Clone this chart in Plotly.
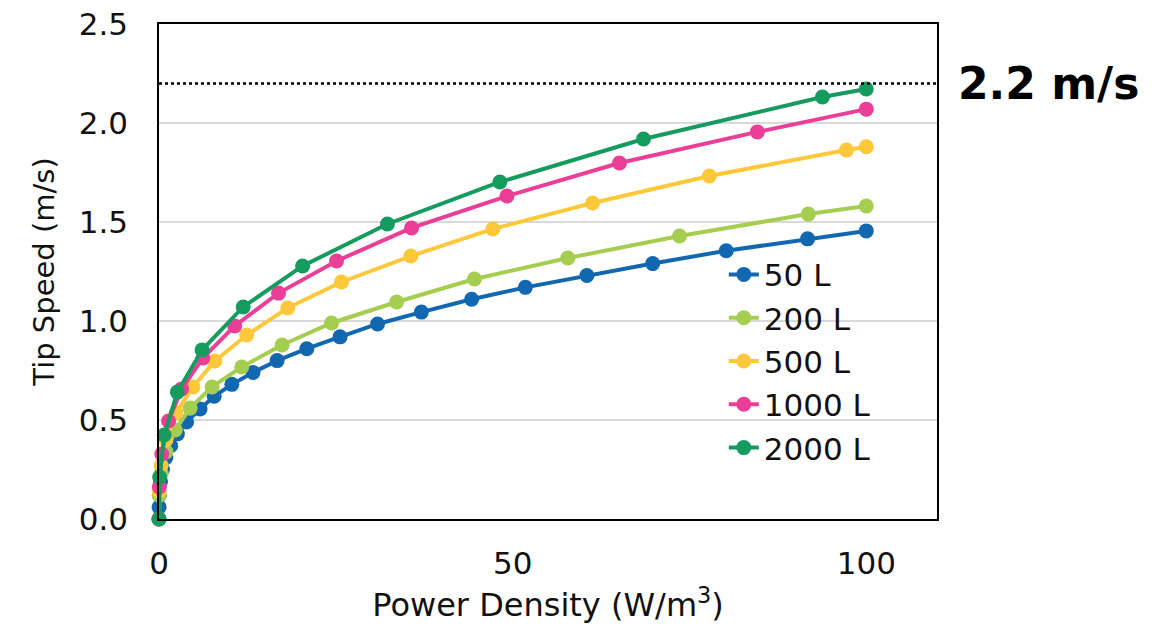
import plotly.graph_objects as go

# ---- data ----
names = ["50 L", "200 L", "500 L", "1000 L", "2000 L"]
colors = ["#1268B0", "#A5CD4F", "#FFC83A", "#EB3F97", "#169B5F"]

x_50 = [0, 0.01, 0.06, 0.22, 0.5, 0.97, 1.65, 2.6, 3.9, 5.8, 7.8, 10.3, 13.3, 16.7,
        20.9, 25.6, 30.9, 37.1, 44.2, 51.8, 60.5, 69.8, 80.2, 91.7, 100]
y_50 = [0, 0.06, 0.12, 0.19, 0.25, 0.31, 0.37, 0.43, 0.49, 0.556, 0.62, 0.68, 0.74, 0.80,
        0.86, 0.92, 0.985, 1.045, 1.11, 1.17, 1.23, 1.29, 1.355, 1.415, 1.455]

x_200 = [0, 0.04, 0.31, 0.99, 2.3, 4.4, 7.5, 11.7, 17.4, 24.4, 33.6, 44.6, 57.8, 73.6, 91.8, 100]
y_200 = [0, 0.12, 0.23, 0.34, 0.45, 0.56, 0.667, 0.768, 0.879, 0.99, 1.096, 1.212, 1.318,
         1.429, 1.54, 1.581]

x_500 = [0, 0.04, 0.3, 0.98, 2.4, 4.8, 7.9, 12.4, 18.2, 25.8, 35.6, 47.2, 61.3, 77.8, 97.2, 100]
y_500 = [0, 0.14, 0.27, 0.40, 0.535, 0.667, 0.798, 0.929, 1.066, 1.197, 1.328, 1.465, 1.596,
         1.732, 1.864, 1.88]

x_1000 = [0, 0.05, 0.39, 1.35, 3.2, 6.2, 10.7, 16.9, 25.1, 35.7, 49.2, 65.1, 84.6, 100]
y_1000 = [0, 0.162, 0.328, 0.495, 0.657, 0.813, 0.975, 1.141, 1.303, 1.47, 1.631, 1.798,
          1.955, 2.07]

x_2000 = [0, 0.09, 0.74, 2.6, 6.1, 11.9, 20.3, 32.3, 48.2, 68.5, 93.8, 100]
y_2000 = [0, 0.212, 0.424, 0.641, 0.854, 1.071, 1.278, 1.49, 1.702, 1.919, 2.131, 2.172]

xs = [x_50, x_200, x_500, x_1000, x_2000]
ys = [y_50, y_200, y_500, y_1000, y_2000]

limit_value = 2.2
limit_label = "2.2 m/s"

x_ticks = [0, 50, 100]
y_ticks = [0.0, 0.5, 1.0, 1.5, 2.0, 2.5]

FONT = "DejaVu Sans, Verdana, sans-serif"
FS = 31

fig = go.Figure()
for n, c, x, y in zip(names, colors, xs, ys):
    fig.add_trace(go.Scatter(
        x=x, y=y, name=n, mode="lines+markers",
        line=dict(color=c, width=4),
        marker=dict(color=c, size=15),
        cliponaxis=False,
    ))

fig.add_shape(type="line", xref="paper", yref="y", x0=0, x1=1,
              y0=limit_value, y1=limit_value,
              line=dict(color="black", width=2.5, dash="dot"))
fig.add_annotation(xref="paper", yref="y", x=1.024, y=limit_value,
                   text="<b>" + limit_label + "</b>", showarrow=False,
                   xanchor="left", yanchor="middle",
                   font=dict(family=FONT, size=44, color="black"))

fig.update_layout(
    width=1163, height=624,
    margin=dict(l=159, r=226, t=24, b=105, autoexpand=False),
    paper_bgcolor="white", plot_bgcolor="white",
    font=dict(family=FONT, size=FS, color="#111111"),
    showlegend=True,
    legend=dict(x=0.726, y=0.548, xanchor="left", yanchor="top",
                bgcolor="rgba(0,0,0,0)", font=dict(size=FS),
                tracegroupgap=0),
)
fig.update_xaxes(
    range=[0, 110], tickvals=x_ticks, showgrid=False, zeroline=False,
    showline=True, linecolor="black", linewidth=1.5, mirror=True,
    ticks="", ticklabelstandoff=16, automargin=False,
    title=dict(text="Power Density (W/m<sup>3</sup>)", standoff=16,
               font=dict(size=32)),
)
fig.update_yaxes(
    range=[0, 2.5], tickvals=y_ticks, tickformat=".1f",
    showgrid=True, gridcolor="#d9d9d9", gridwidth=1.5, zeroline=False,
    showline=True, linecolor="black", linewidth=1.5, mirror=True,
    ticks="", ticklabelstandoff=23, automargin=False,
    title=dict(text="Tip Speed (m/s)", standoff=16, font=dict(size=29)),
)

fig.write_html("out.html")
